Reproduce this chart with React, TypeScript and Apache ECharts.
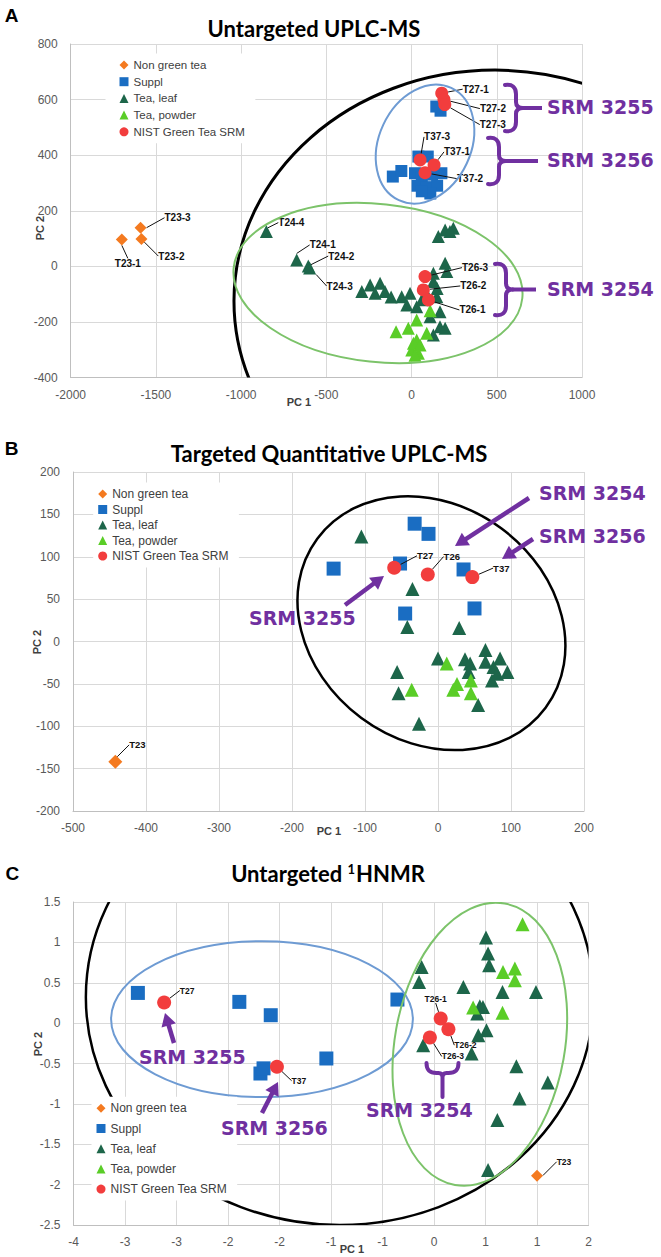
import React, { useEffect, useRef } from 'react';
import * as echarts from 'echarts';

// ---------- Series names ----------
const SERIES_NAMES = ['Non green tea', 'Suppl', 'Tea, leaf', 'Tea, powder', 'NIST Green Tea SRM'];

// ---------- Panel A: Untargeted UPLC-MS ----------
const A_NON_GREEN = [[-1700, 97], [-1585, 98], [-1590, 139]];
const A_NON_GREEN_LABELS = ['T23-1', 'T23-2', 'T23-3'];
const A_SUPPL = [
  [170, 560], [145, 575], [-110, 323], [-60, 343], [40, 395], [95, 395], [20, 335], [60, 320],
  [120, 330], [175, 335], [35, 290], [90, 285], [150, 290], [110, 262], [60, 270],
];
const A_TEA_LEAF = [
  [-852, 125], [-674, 23], [-606, 1], [-598, -6],
  [-292, -91], [-243, -67], [-185, -61], [-156, -91], [-214, -97], [-58, -109], [-9, -97], [-28, -139],
  [30, -145], [128, -25], [197, 11], [207, -19], [128, -55], [148, -109], [167, -163], [167, -217],
  [128, -247], [197, -223], [109, -181], [157, 107], [197, 131], [245, 137], [225, 125], [60, -120],
  [90, -100], [-120, -110], [150, -80],
];
const A_TEA_LEAF_LABELS = ['T24-4', 'T24-1', 'T24-2', 'T24-3'];
const A_TEA_POWDER = [
  [-91, -235], [30, -193], [-19, -223], [30, -265], [1, -301], [40, -313], [89, -241], [109, -160],
  [11, -277], [50, -283], [20, -320],
];
const A_SRM = [[177, 623], [190, 600], [195, 582], [50, 383], [132, 365], [79, 337], [79, -37], [69, -85], [99, -121]];
const A_SRM_LABELS = ['T27-1', 'T27-2', 'T27-3', 'T37-3', 'T37-1', 'T37-2', 'T26-3', 'T26-2', 'T26-1'];
// ellipses: [centerX, centerY, radiusX, radiusY, clockwise rotation deg]
const A_ELLIPSES = [[490, -125, 1532, 831, 0], [79, 440, 270, 223, 25], [-197, -60, 851, 284, 6]];

// ---------- Panel B: Targeted Quantitative UPLC-MS ----------
const B_NON_GREEN = [[-442, -142]];
const B_NON_GREEN_LABELS = ['T23'];
const B_SUPPL = [[-32, 139], [-13, 127], [-143, 86], [-52, 92], [35, 85], [-45, 33], [50, 39]];
const B_TEA_LEAF = [
  [-105, 124], [-35, 62], [-42, 17], [29, 16], [0, -20], [-56, -36], [-54, -61], [-26, -97], [37, -21],
  [44, -26], [65, -10], [65, -24], [42, -36], [85, -20], [76, -30], [74, -46], [81, -38], [95, -36], [55, -75],
];
const B_TEA_POWDER = [[12, -26], [-36, -57], [26, -50], [21, -57], [45, -46], [45, -61]];
const B_SRM = [[-60, 87], [-14, 79], [47, 76]];
const B_SRM_LABELS = ['T27', 'T26', 'T37'];
const B_ELLIPSES = [[-9, 21.6, 194.5, 139, 36.5]];

// ---------- Panel C: Untargeted 1HNMR (x in tick-position units) ----------
const C_X_TICK_LABELS = ['-4', '-3', '-3', '-2', '-2', '-1', '-1', '0', '1', '1', '2'];
const C_NON_GREEN = [[9.0, -1.89]];
const C_NON_GREEN_LABELS = ['T23'];
const C_SUPPL = [[1.25, 0.374], [3.22, 0.263], [3.83, 0.098], [3.63, -0.624], [3.69, -0.56], [4.91, -0.438], [6.29, 0.292]];
const C_TEA_LEAF = [
  [8.01, 1.06], [8.05, 0.862], [8.07, 0.717], [6.76, 0.696], [6.71, 0.51], [7.57, 0.448], [8.33, 0.386],
  [8.98, 0.386], [7.89, 0.21], [7.84, 0.12], [8.02, -0.087], [7.86, -0.149], [6.79, -0.273], [7.73, -0.376],
  [8.6, -0.533], [9.21, -0.734], [8.66, -0.932], [8.23, -1.2], [8.05, -1.82], [7.95, 0.2],
];
const C_TEA_POWDER = [[8.72, 1.224], [8.34, 0.634], [8.57, 0.676], [8.57, 0.531], [7.76, 0.193], [8.33, 0.127]];
const C_SRM = [[1.76, 0.255], [3.95, -0.54], [7.13, 0.057], [7.28, -0.075], [6.92, -0.178]];
const C_SRM_LABELS = ['T27', 'T37', 'T26-1', 'T26-2', 'T26-3'];
const C_ELLIPSES = [[5.17, 0.321, 4.93, 2.821, 0], [3.66, 0.049, 2.93, 0.965, 0], [7.89, -0.261, 1.65, 1.769, 10]];

// ---------- Styles / layout (kept apart from data) ----------
const FONT = "'Liberation Sans', Arial, sans-serif";
const TITLE_FONT = "Lato, 'Open Sans', sans-serif";
const SRM_FONT = "'DejaVu Sans', Verdana, sans-serif";
const COLORS = ['#F47A20', '#1A6DC2', '#1D664A', '#5ACD27', '#F23D3D'];
const SYMBOLS = ['diamond', 'rect', 'triangle', 'triangle', 'circle'];
const PURPLE = '#7030A0';
const ELL_COLORS = ['#000000', '#6E9BD3', '#7CC36A'];

const GRIDS = [
  { left: 70.7, top: 44, width: 511.3, height: 333.5 },
  { left: 73, top: 472, width: 511, height: 339 },
  { left: 73.5, top: 902, width: 515, height: 323 },
];
const SYMBOL_SIZES = [
  [12, 12, 13, 13, 13],
  [14, 14, 14, 14, 14],
  [12, 14, 14, 14, 14],
];
const LABEL_SIZES = [10, 9.5, 8.5];
const ELL_WIDTHS = [[3, 2, 2], [2.5], [2.5, 2, 2]];

const A_NON_GREEN_OFF = [[6, 24], [30, 17], [37, -10]];
const A_TEA_LEAF_OFF = [[25, -9], [26, -15], [33, -10], [30, 18]];
const A_SRM_OFF = [[34, -4], [49, 9], [48, 20], [17, -23], [23, -13], [45, 6], [50, -9], [50, -4], [44, 10]];
const B_NON_GREEN_OFF = [[22, -17]];
const B_SRM_OFF = [[31, -12], [24, -18], [29, -9]];
const C_NON_GREEN_OFF = [[27, -14]];
const C_SRM_OFF = [[23, -12], [22, 14], [-5, -20], [17, 16], [23, 19]];

// ---------- Shapes ----------
function bracePath(h: number) {
  const m = h / 2;
  return `M0,1 C7,0 11,3 11,10 L11,${m - 6} C11,${m - 2} 13,${m} 18,${m} C13,${m} 11,${m + 2} 11,${m + 6} L11,${h - 10} C11,${h - 3} 7,${h} 0,${h - 1}`;
}
echarts.graphic.registerShape('brace48', echarts.graphic.extendPath(bracePath(48), {}) as any);
echarts.graphic.registerShape('brace53', echarts.graphic.extendPath(bracePath(53), {}) as any);
echarts.graphic.registerShape(
  'braceDown',
  echarts.graphic.extendPath('M0,0 C0,7 3,10 10,10 L12,10 C14,10 16,11 16,14 C16,11 18,10 20,10 L22,10 C29,10 32,7 32,0 M16,14 L16,34', {}) as any
);

function scatter(panel: number, kind: number, pts: number[][], labels?: string[], offsets?: number[][]) {
  return {
    type: 'scatter',
    name: SERIES_NAMES[kind],
    xAxisIndex: panel,
    yAxisIndex: panel,
    symbol: SYMBOLS[kind],
    symbolSize: SYMBOL_SIZES[panel][kind],
    itemStyle: { color: COLORS[kind], opacity: 1 },
    z: 3 + kind * 0.1,
    silent: true,
    data: pts.map((p, i) => {
      const nm = labels && labels[i] ? labels[i] : '';
      return { value: p, name: nm, label: { show: !!nm }, labelLine: { show: !!nm } };
    }),
    label: {
      show: true,
      position: 'inside',
      formatter: '{b}',
      color: '#111',
      fontWeight: 'bold',
      fontSize: LABEL_SIZES[panel],
      fontFamily: FONT,
    },
    labelLine: { show: true, lineStyle: { color: '#111', width: 1 } },
    labelLayout: (params: any) => {
      const o = offsets && offsets[params.dataIndex];
      return o ? { dx: o[0], dy: o[1] } : {};
    },
  };
}

function ellipses(panel: number, data: number[][]) {
  return {
    type: 'custom',
    xAxisIndex: panel,
    yAxisIndex: panel,
    silent: true,
    z: 3.5,
    data,
    renderItem: (params: any, api: any) => {
      const cx = api.value(0);
      const cy = api.value(1);
      const c = api.coord([cx, cy]);
      const s = api.size([api.value(2), api.value(3)], [cx, cy]);
      const cs = params.coordSys;
      return {
        type: 'group',
        clipPath: { type: 'rect', shape: { x: cs.x, y: cs.y, width: cs.width, height: cs.height } },
        children: [
          {
            type: 'ellipse',
            x: c[0],
            y: c[1],
            rotation: (-api.value(4) * Math.PI) / 180,
            shape: { cx: 0, cy: 0, rx: s[0], ry: s[1] },
            style: { fill: 'none', stroke: ELL_COLORS[params.dataIndex], lineWidth: ELL_WIDTHS[panel][params.dataIndex] },
          },
        ],
      };
    },
  };
}

const plainNumber = (v: number) => String(v);

function xAxis(gridIndex: number, min: number, max: number, interval: number, formatter: any = plainNumber) {
  return {
    type: 'value',
    gridIndex,
    min,
    max,
    interval,
    axisLine: { show: true, onZero: false, lineStyle: { color: '#bfbfbf', width: 1 } },
    axisTick: { show: false },
    splitLine: { show: true, lineStyle: { color: '#d9d9d9', width: 1 } },
    axisLabel: { color: '#595959', fontSize: 12, fontFamily: FONT, margin: 11, formatter },
  };
}
function yAxis(gridIndex: number, min: number, max: number, interval: number) {
  return {
    type: 'value',
    gridIndex,
    min,
    max,
    interval,
    axisLine: { show: true, onZero: false, lineStyle: { color: '#bfbfbf', width: 1 } },
    axisTick: { show: false },
    splitLine: { show: true, lineStyle: { color: '#d9d9d9', width: 1 } },
    axisLabel: { color: '#595959', fontSize: 12, fontFamily: FONT, margin: 13, formatter: plainNumber },
  };
}

function legend(left: number, top: number, gap: number, fontSize: number, padLeft: number) {
  return {
    orient: 'vertical',
    left,
    top,
    itemWidth: 9,
    itemHeight: 9,
    itemGap: gap,
    padding: [5, 10, 5, padLeft],
    backgroundColor: '#ffffff',
    selectedMode: false,
    textStyle: { color: '#404040', fontSize, fontFamily: FONT, lineHeight: 13 },
    data: SERIES_NAMES.map((n, i) => ({ name: n, icon: SYMBOLS[i] })),
  };
}

function text(x: number, y: number, str: string, opts: any = {}) {
  return {
    type: 'text',
    x,
    y,
    z: 100,
    silent: true,
    rotation: opts.rotation || 0,
    style: {
      text: str,
      fill: opts.color || '#000',
      fontSize: opts.size || 12,
      fontWeight: opts.weight || 'normal',
      fontFamily: opts.family || FONT,
      textAlign: opts.align || 'center',
      textVerticalAlign: 'middle',
      rich: opts.rich,
    },
  };
}

function arrow(x1: number, y1: number, x2: number, y2: number) {
  const dx = x2 - x1;
  const dy = y2 - y1;
  const len = Math.hypot(dx, dy);
  const ux = dx / len;
  const uy = dy / len;
  const hl = 13;
  const hw = 7.5;
  const bx = x2 - ux * hl;
  const by = y2 - uy * hl;
  return [
    { type: 'line', z: 100, silent: true, shape: { x1, y1, x2: bx + ux * 2, y2: by + uy * 2 }, style: { stroke: PURPLE, lineWidth: 4.5 } },
    {
      type: 'polygon',
      z: 100,
      silent: true,
      shape: { points: [[x2, y2], [bx - uy * hw, by + ux * hw], [bx + uy * hw, by - ux * hw]] },
      style: { fill: PURPLE },
    },
  ];
}

function brace(type: string, x: number, y: number, mid: number, stemEnd: number) {
  return [
    { type, x, y, z: 100, silent: true, style: { stroke: PURPLE, fill: 'none', lineWidth: 4, lineCap: 'round', lineJoin: 'round' } },
    { type: 'line', z: 100, silent: true, shape: { x1: x + 17, y1: y + mid, x2: stemEnd, y2: y + mid }, style: { stroke: PURPLE, lineWidth: 4 } },
  ];
}

function buildOption() {
  const srm = (x: number, y: number, s: string) =>
    text(x, y, s, { color: PURPLE, size: 19, weight: 'bold', family: SRM_FONT, align: 'left' });
  const axName = { color: '#404040', size: 11, weight: 'bold' };
  return {
    animation: false,
    backgroundColor: '#ffffff',
    grid: GRIDS.map((g) => ({ ...g, containLabel: false, outerBoundsMode: 'none' })),
    xAxis: [
      xAxis(0, -2000, 1000, 500),
      xAxis(1, -500, 200, 100),
      xAxis(2, 0, 10, 1, (v: number) => C_X_TICK_LABELS[Math.round(v)] ?? ''),
    ],
    yAxis: [yAxis(0, -400, 800, 200), yAxis(1, -200, 200, 50), yAxis(2, -2.5, 1.5, 0.5)],
    legend: [legend(105.5, 53.5, 3.7, 11.5, 14), legend(93.2, 482.5, 2.5, 12, 5), legend(91.5, 1096.8, 7.2, 12, 5)],
    series: [
      scatter(0, 0, A_NON_GREEN, A_NON_GREEN_LABELS, A_NON_GREEN_OFF),
      scatter(0, 1, A_SUPPL),
      scatter(0, 2, A_TEA_LEAF, A_TEA_LEAF_LABELS, A_TEA_LEAF_OFF),
      scatter(0, 3, A_TEA_POWDER),
      scatter(0, 4, A_SRM, A_SRM_LABELS, A_SRM_OFF),
      ellipses(0, A_ELLIPSES),
      scatter(1, 0, B_NON_GREEN, B_NON_GREEN_LABELS, B_NON_GREEN_OFF),
      scatter(1, 1, B_SUPPL),
      scatter(1, 2, B_TEA_LEAF),
      scatter(1, 3, B_TEA_POWDER),
      scatter(1, 4, B_SRM, B_SRM_LABELS, B_SRM_OFF),
      ellipses(1, B_ELLIPSES),
      scatter(2, 0, C_NON_GREEN, C_NON_GREEN_LABELS, C_NON_GREEN_OFF),
      scatter(2, 1, C_SUPPL),
      scatter(2, 2, C_TEA_LEAF),
      scatter(2, 3, C_TEA_POWDER),
      scatter(2, 4, C_SRM, C_SRM_LABELS, C_SRM_OFF),
      ellipses(2, C_ELLIPSES),
    ],
    graphic: [
      // panel letters and titles
      text(11.5, 15, 'A', { size: 19, weight: 'bold' }),
      text(11.7, 448, 'B', { size: 19, weight: 'bold' }),
      text(12.3, 873, 'C', { size: 19, weight: 'bold' }),
      text(314, 28, 'Untargeted UPLC-MS', { size: 22, weight: 'bold', family: TITLE_FONT }),
      text(329, 453, 'Targeted Quantitative UPLC-MS', { size: 22, weight: 'bold', family: TITLE_FONT }),
      text(328, 873, 'Untargeted {s|1}HNMR', {
        size: 22,
        weight: 'bold',
        family: TITLE_FONT,
        rich: { s: { fontSize: 13, fontWeight: 'bold', fontFamily: TITLE_FONT, padding: [0, 1, 9, 0] } },
      }),
      // axis names
      text(299, 402, 'PC 1', axName),
      text(40, 228, 'PC 2', { ...axName, rotation: Math.PI / 2 }),
      text(329, 831, 'PC 1', axName),
      text(37, 642, 'PC 2', { ...axName, rotation: Math.PI / 2 }),
      text(352, 1249, 'PC 1', axName),
      text(38, 1044, 'PC 2', { ...axName, rotation: Math.PI / 2 }),
      // Panel A annotations
      ...brace('brace48', 505, 84, 24, 542),
      srm(547, 107, 'SRM 3255'),
      ...brace('brace48', 488, 137, 24, 538),
      srm(547, 160, 'SRM 3256'),
      ...brace('brace53', 495, 263, 26.5, 536),
      srm(547, 289, 'SRM 3254'),
      // Panel B annotations
      srm(539, 493, 'SRM 3254'),
      ...arrow(529, 498, 455, 546),
      srm(539, 536, 'SRM 3256'),
      ...arrow(533, 539, 502, 559),
      srm(249, 618, 'SRM 3255'),
      ...arrow(345, 605, 384, 576),
      // Panel C annotations
      srm(139, 1057, 'SRM 3255'),
      ...arrow(174, 1043, 165, 1013),
      srm(221, 1128, 'SRM 3256'),
      ...arrow(262, 1113, 278, 1082),
      { type: 'braceDown', x: 426.5, y: 1063, z: 100, silent: true, style: { stroke: PURPLE, fill: 'none', lineWidth: 4, lineCap: 'round' } },
      srm(366, 1110, 'SRM 3254'),
    ],
  };
}

export default function App() {
  const ref = useRef<HTMLDivElement>(null);
  useEffect(() => {
    if (!ref.current) return;
    const chart = echarts.init(ref.current, null, { renderer: 'svg' });
    chart.setOption(buildOption() as any);
    return () => chart.dispose();
  }, []);
  return (
    <div
      ref={ref}
      style={{ position: 'absolute', left: 0, top: 0, width: 661, height: 1257, background: '#ffffff' }}
    />
  );
}
